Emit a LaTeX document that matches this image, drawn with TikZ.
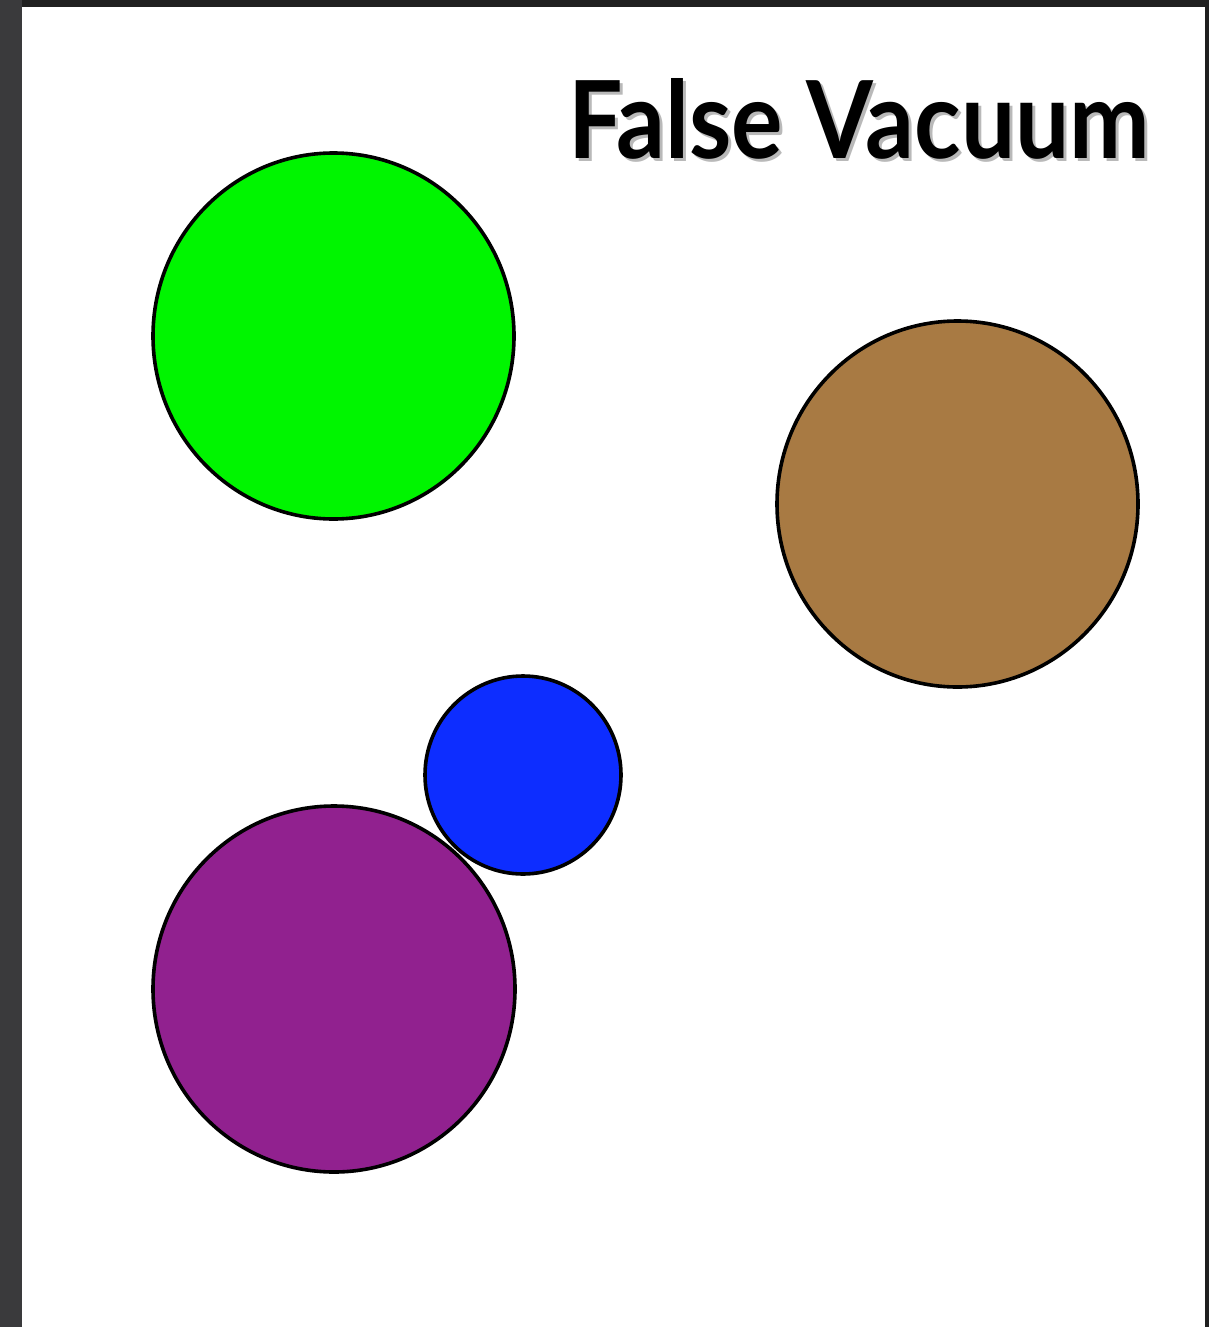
\documentclass[tikz,border=0pt]{standalone}
\usepackage{fontspec}
\setmainfont{Lato}
\usepackage{graphicx}
\usetikzlibrary{shapes.geometric}
\definecolor{vgreen}{RGB}{0,245,0}
\definecolor{vbrown}{RGB}{168,122,67}
\definecolor{vblue}{RGB}{13,45,255}
\definecolor{vpurple}{RGB}{145,33,143}
\definecolor{frameL}{RGB}{58,58,60}
\definecolor{frameT}{RGB}{32,32,32}
\definecolor{shadowgrey}{RGB}{185,185,185}
\tikzset{
  bubble/.style={draw=black, line width=3.6pt, ellipse, inner sep=0pt},
}
\newcommand{\titletext}{\resizebox{582pt}{80pt}{\bfseries False Vacuum}}
\begin{document}
\begin{tikzpicture}[x=1pt,y=-1pt]
\useasboundingbox (0,0) rectangle (1209,1327);
% frame
\fill[frameT] (0,0) rectangle (1209,1327);
\fill[frameL] (0,0) rectangle (22,1327);
\fill[white] (22,7) rectangle (1205,1327);
% title with soft shadow (one node)
\node (title) [anchor=base west, inner sep=0pt, text=black] at (568,158)
  {\rlap{\hspace{3pt}\raisebox{-3pt}{\color{shadowgrey}\titletext}}\titletext};
% bubbles
\node (green) [bubble, fill=vgreen, minimum width=361pt, minimum height=366pt] at (333.5,336) {};
\node (brown) [bubble, fill=vbrown, minimum width=361pt, minimum height=366pt] at (957.5,504) {};
\node (blue) [bubble, fill=vblue, minimum width=196pt, minimum height=198pt] at (523,775) {};
\node (purple) [bubble, fill=vpurple, minimum width=362pt, minimum height=366pt] at (334,989) {};
\end{tikzpicture}
\end{document}
